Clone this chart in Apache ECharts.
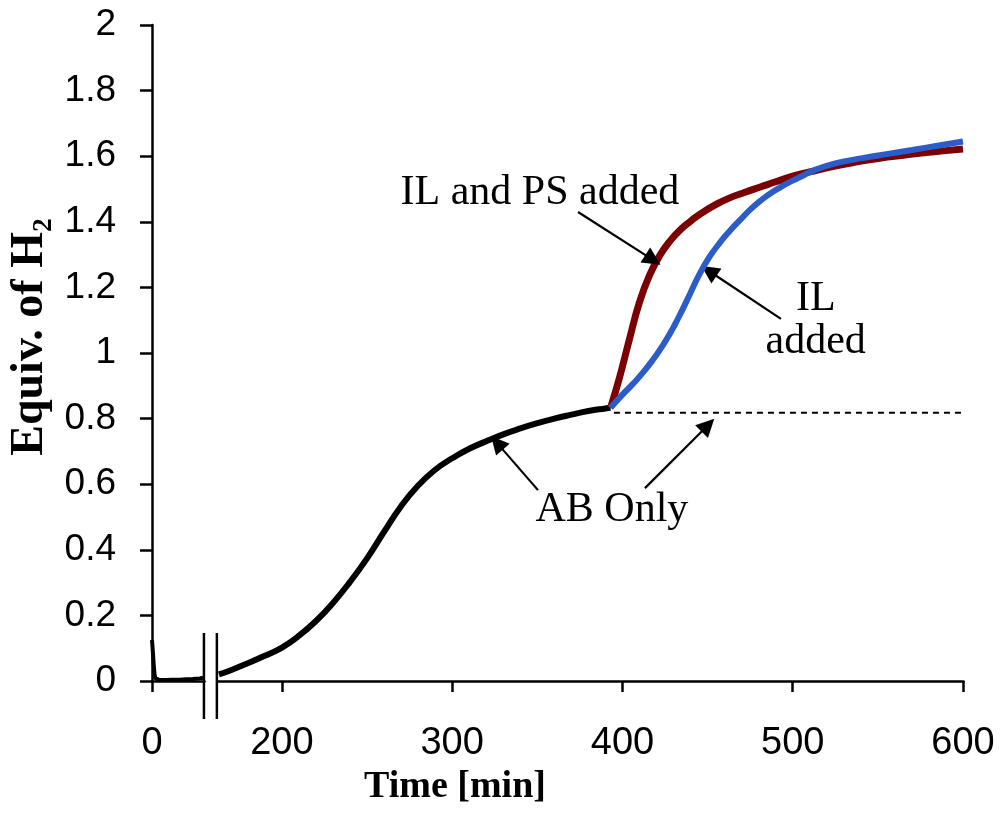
<!DOCTYPE html>
<html>
<head>
<meta charset="utf-8">
<script src="https://cdn.jsdelivr.net/npm/echarts@6/dist/echarts.min.js"></script>
<style>
html, body { margin: 0; padding: 0; background: #fff; }
#chart_1 { width: 1000px; height: 814px; }
</style>
</head>
<body>
<div id="chart_1"></div>
<script>
// AB only, before the axis break (time [min], equiv. of H2)
var abPreTime = [0, 0.5, 1, 1.5, 2, 4, 8, 12, 16, 20, 24, 28, 30];
var abPreVal = [0.125, 0.09, 0.05, 0.02, 0.008, 0.004, 0.003, 0.004, 0.004, 0.005, 0.006, 0.008, 0.01];

// AB only, after the break
var abTime = [163, 170, 180, 190, 200, 210, 220, 230, 240, 250, 260, 270, 280, 290, 300,
  310, 320, 330, 340, 350, 360, 370, 380, 390, 393];
var abVal = [0.02, 0.033, 0.054, 0.077, 0.102, 0.138, 0.183, 0.238, 0.302, 0.374, 0.455, 0.533, 0.596, 0.644, 0.679,
  0.708, 0.731, 0.752, 0.77, 0.786, 0.8, 0.812, 0.823, 0.831, 0.833];

// IL and PS added
var ilpsTime = [393, 398, 404, 410, 416, 422, 428, 434, 440, 446, 455, 463, 472, 481,
  490, 500, 510, 522, 535, 551, 565, 580, 590, 600];
var ilpsVal = [0.833, 0.92, 1.04, 1.155, 1.238, 1.298, 1.342, 1.376, 1.402, 1.425, 1.453, 1.473, 1.49, 1.506,
  1.522, 1.539, 1.552, 1.567, 1.58, 1.594, 1.603, 1.612, 1.617, 1.622];

// IL added
var ilTime = [393, 400, 406, 412, 418, 423, 428, 433, 438, 445, 451, 457, 463, 469,
  475, 481, 487, 493, 499, 505, 512, 525, 541, 556, 570, 585, 600];
var ilVal = [0.833, 0.873, 0.905, 0.94, 0.98, 1.018, 1.06, 1.109, 1.162, 1.238, 1.292, 1.335, 1.372, 1.405,
  1.437, 1.464, 1.487, 1.506, 1.523, 1.538, 1.556, 1.578, 1.594, 1.607, 1.619, 1.632, 1.645];

// AB only continued (dashed)
var abDashTime = [395, 600];
var abDashVal = [0.818, 0.818];

var xTickValues = [0, 200, 300, 400, 500, 600];
var xBreak = { start: 30.5, end: 161.8, gap: 7.6 };

// annotation arrows: [from, to] in data units
var arrowList = [
  [[373.9, 1.430], [417.9, 1.284]],
  [[493.1, 1.104], [450.8, 1.250]],
  [[350.4, 0.582], [326.3, 0.726]],
  [[413.2, 0.588], [450.2, 0.780]]
];
var noteList = [
  { text: 'IL and PS added', t: 351.5, v: 1.488 },
  { text: 'IL\nadded', t: 513.5, v: 1.10 },
  { text: 'AB Only', t: 393.8, v: 0.521 }
];

function pairs(xs, ys) {
  return xs.map(function (x, i) { return [x, ys[i]]; });
}

var chart = echarts.init(document.getElementById('chart_1'), null, { renderer: 'canvas' });

var axisFont = 'Liberation Sans';
var serifFont = 'Liberation Serif';

chart.setOption({
  animation: false,
  backgroundColor: '#ffffff',
  grid: {
    left: 152,
    right: 37,
    top: 25,
    bottom: 133,
    outerBoundsMode: 'none'
  },
  xAxis: {
    type: 'value',
    min: 0,
    max: 600,
    breaks: [xBreak],
    breakArea: { show: false },
    axisLine: { show: true, onZero: false, lineStyle: { color: '#000', width: 2.5 } },
    axisTick: { show: true, length: 11, customValues: xTickValues, lineStyle: { color: '#000', width: 2.5 } },
    axisLabel: {
      customValues: xTickValues,
      margin: 44,
      fontSize: 38,
      fontFamily: axisFont,
      color: '#000'
    },
    splitLine: { show: false }
  },
  yAxis: {
    type: 'value',
    min: 0,
    max: 2,
    interval: 0.2,
    axisLine: { show: true, lineStyle: { color: '#000', width: 2.5 } },
    axisTick: { show: true, length: 12, lineStyle: { color: '#000', width: 2.5 } },
    axisLabel: {
      margin: 36,
      fontSize: 37,
      fontFamily: axisFont,
      color: '#000'
    },
    splitLine: { show: false }
  },
  series: [
    {
      name: 'AB Only',
      type: 'line',
      data: pairs(abPreTime, abPreVal),
      showSymbol: false,
      lineStyle: { color: '#000', width: 4 },
      z: 3
    },
    {
      name: 'AB Only',
      type: 'line',
      data: pairs(abTime, abVal),
      showSymbol: false,
      smooth: 0.5,
      lineStyle: { color: '#000', width: 6 },
      z: 3
    },
    {
      name: 'AB Only (projected)',
      type: 'line',
      data: pairs(abDashTime, abDashVal),
      showSymbol: false,
      lineStyle: { color: '#000', width: 2, type: [6, 5] },
      markLine: {
        silent: true,
        symbol: ['none', 'triangle'],
        symbolSize: 18,
        label: { show: false },
        lineStyle: { color: '#000', width: 2.2, type: 'solid' },
        data: arrowList.map(function (a) {
          return [{ coord: a[0] }, { coord: a[1] }];
        })
      },
      z: 2
    },
    {
      name: 'IL and PS added',
      type: 'line',
      data: pairs(ilpsTime, ilpsVal),
      showSymbol: false,
      smooth: 0.5,
      lineStyle: { color: '#7a0202', width: 7 },
      z: 4
    },
    {
      name: 'IL added',
      type: 'line',
      data: pairs(ilTime, ilVal),
      showSymbol: false,
      smooth: 0.5,
      lineStyle: { color: '#2c5cc8', width: 6 },
      z: 5
    }
  ]
});

// break marks, notes and axis titles
var graphics = [];
var y0 = chart.convertToPixel({ yAxisIndex: 0 }, 0);
[xBreak.start, xBreak.end].forEach(function (v) {
  var px = chart.convertToPixel({ xAxisIndex: 0 }, v);
  graphics.push({
    type: 'line',
    shape: { x1: px, y1: y0 - 48, x2: px, y2: y0 + 38 },
    style: { stroke: '#000', lineWidth: 2.5 },
    z: 10
  });
});
noteList.forEach(function (n) {
  var p = chart.convertToPixel({ gridIndex: 0 }, [n.t, n.v]);
  graphics.push({
    type: 'text',
    x: p[0],
    y: p[1],
    style: {
      text: n.text,
      font: '42px "' + serifFont + '"',
      fill: '#000',
      align: 'center',
      verticalAlign: 'middle',
      lineHeight: 43
    },
    z: 10
  });
});
graphics.push({
  type: 'text',
  x: 455,
  y: 787,
  style: {
    text: 'Time [min]',
    font: 'bold 38px "' + serifFont + '"',
    fill: '#000',
    align: 'center',
    verticalAlign: 'middle'
  }
});
graphics.push({
  type: 'text',
  x: 30,
  y: 337,
  rotation: Math.PI / 2,
  style: {
    text: 'Equiv. of H\u2082',
    font: 'bold 46px "' + serifFont + '"',
    fill: '#000',
    align: 'center',
    verticalAlign: 'middle'
  }
});
chart.setOption({ graphic: graphics });
</script>
</body>
</html>
